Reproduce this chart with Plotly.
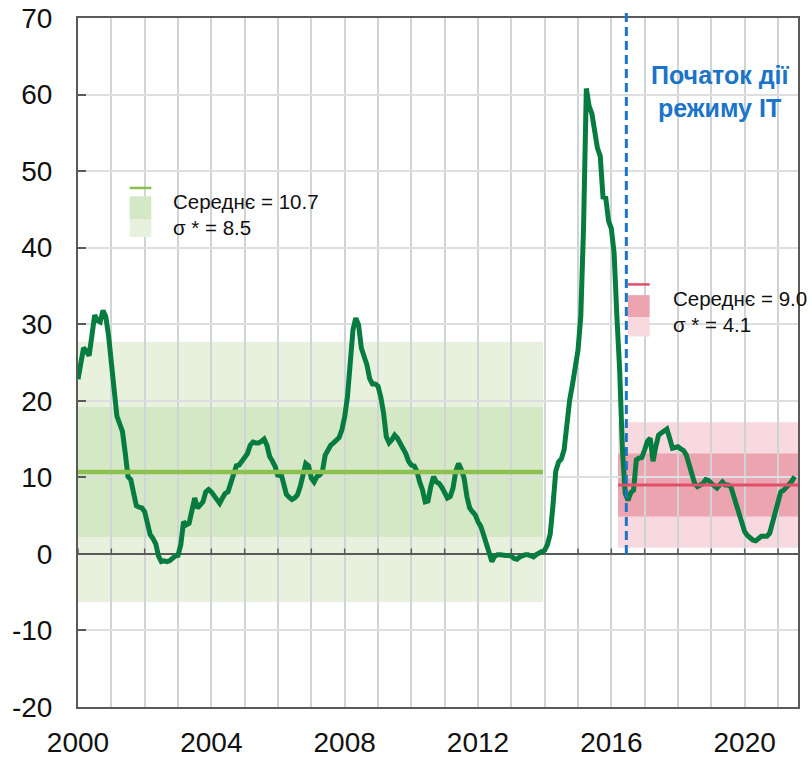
"""
Inflation (CPI, % y/y) before and after the start of inflation targeting.
"""
from __future__ import annotations

import plotly.graph_objects as go

# ── data ──────────────────────────────────────────────────────────────────────
START_YEAR = 2000

# monthly CPI y/y, Jan 2000 .. Jul 2021
cpi_2000_2007 = [
    22.8, 25.0, 26.9, 26.5, 25.9, 28.5, 31.2, 30.5, 30.3, 31.8, 31.0, 28.5,
    25.0, 21.0, 18.0, 17.0, 16.0, 13.2, 10.1, 9.7, 7.8, 6.3, 6.1, 6.0,
    5.5, 4.0, 2.5, 2.0, 1.3, -0.3, -1.0, -0.9, -1.0, -0.9, -0.5, -0.3,
    -0.2, 1.2, 4.2, 3.8, 4.0, 5.7, 7.3, 6.0, 6.3, 6.8, 8.1, 8.4,
    8.1, 7.5, 7.0, 6.6, 7.3, 7.9, 8.1, 9.4, 10.5, 11.5, 11.6, 12.2,
    12.6, 13.1, 14.2, 14.6, 14.5, 14.5, 14.7, 15.0, 14.2, 12.7, 12.1, 11.4,
    10.1, 10.6, 9.2, 7.8, 7.4, 7.1, 7.3, 7.7, 8.8, 10.5, 11.8, 11.5,
    9.9, 9.4, 10.1, 10.3, 10.8, 12.9, 13.7, 14.2, 14.5, 14.8, 15.2, 16.2,
]
cpi_2008_2015 = [
    17.9, 20.5, 24.7, 29.3, 30.8, 29.9, 26.9, 26.0, 24.7, 22.9, 22.2, 22.2,
    21.9, 20.5, 18.4, 15.3, 14.5, 14.9, 15.5, 15.1, 14.5, 13.8, 13.1, 12.1,
    11.6, 11.5, 10.8, 9.4, 8.4, 6.8, 6.9, 8.8, 10.1, 9.4, 9.2, 8.7,
    8.1, 7.3, 7.5, 8.6, 10.8, 11.8, 11.0, 9.9, 7.5, 6.0, 5.5, 5.1,
    4.2, 3.6, 2.5, 1.4, 0.1, -1.0, -0.3, -0.1, -0.1, -0.2, -0.2, -0.2,
    -0.3, -0.6, -0.7, -0.4, -0.2, -0.1, -0.1, -0.3, -0.4, -0.1, 0.1, 0.3,
    0.5, 1.2, 2.6, 6.4, 10.8, 12.0, 12.4, 13.6, 17.5, 20.1, 22.1, 24.0,
    26.6, 31.0, 42.7, 60.8, 58.5, 57.5, 55.5, 53.0, 52.0, 46.6, 46.5, 43.5,
]
cpi_2016_2021 = [
    42.5, 39.3, 31.0, 24.0, 13.6, 7.9, 7.0, 8.0, 8.3, 12.3, 12.5, 12.6,
    13.6, 14.7, 15.1, 12.1, 14.0, 15.5, 15.8, 16.1, 16.3, 15.1, 13.8, 13.9,
    14.0, 13.7, 13.5, 12.9, 11.8, 10.3, 9.2, 8.8, 9.0, 9.2, 9.7, 9.6,
    9.2, 8.8, 8.6, 9.0, 9.4, 9.0, 9.0, 8.8, 7.5, 6.3, 5.1, 4.0,
    2.9, 2.4, 2.0, 1.8, 1.7, 2.0, 2.3, 2.3, 2.3, 2.7, 4.1, 5.7,
    7.3, 8.1, 8.3, 8.8, 9.1, 9.5, 10.1,
]
cpi = cpi_2000_2007 + cpi_2008_2015 + cpi_2016_2021
dates = [START_YEAR + i / 12 for i in range(len(cpi))]

# period statistics
pre_it_period = (2000.0, 2013.95)
pre_it_mean, pre_it_sigma = 10.7, 8.5
it_period = (2016.2, 2021.6)
it_mean, it_sigma = 9.0, 4.1
it_start = 2016.45

x_tick_years = [2000, 2004, 2008, 2012, 2016, 2020]
x_tick_labels = ["2000", "2004", "2008", "2012", "2016", "2020"]
y_tick_values = [-20, -10, 0, 10, 20, 30, 40, 50, 60, 70]
y_tick_labels = ["-20", "-10", "0", "10", "20", "30", "40", "50", "60", "70"]
grid_years = list(range(2000, 2022))

mean_label = "Середнє"
sigma_label = "σ *"
it_note = ["Початок дії", "режиму IT"]

FONT = "Liberation Sans, Arial, sans-serif"
AXIS_COLOR = "#5a5a5a"
GRID_COLOR = "#d0d4d7"
LINE_GREEN = "#077c40"
BLUE = "#1b74c8"


def band_shapes(x0, x1, mean, sigma, outer, inner):
    return [
        dict(type="rect", xref="x", yref="y", x0=x0, x1=x1,
             y0=mean - 2 * sigma, y1=mean + 2 * sigma,
             fillcolor=outer, line_width=0, layer="below"),
        dict(type="rect", xref="x", yref="y", x0=x0, x1=x1,
             y0=mean - sigma, y1=mean + sigma,
             fillcolor=inner, line_width=0, layer="below"),
    ]


def legend_swatch(x0, x1, y_line, y_top, y_mid, y_bot, line_color, inner, outer):
    return [
        dict(type="line", xref="x", yref="y", x0=x0, x1=x1, y0=y_line, y1=y_line,
             line=dict(color=line_color, width=2.5)),
        dict(type="rect", xref="x", yref="y", x0=x0, x1=x1, y0=y_mid, y1=y_top,
             fillcolor=inner, line_width=0),
        dict(type="rect", xref="x", yref="y", x0=x0, x1=x1, y0=y_bot, y1=y_mid,
             fillcolor=outer, line_width=0),
    ]


def build_figure() -> go.Figure:
    fig = go.Figure()

    # ── small tick marks sitting on the zero line ────────────────────────────
    tx, ty = [], []
    for yr in grid_years:
        tx += [yr, yr, None]
        ty += [0, 0.7, None]
    fig.add_trace(go.Scatter(x=tx, y=ty, mode="lines", hoverinfo="skip",
                             line=dict(color=AXIS_COLOR, width=1.5)))

    # ── CPI line ─────────────────────────────────────────────────────────────
    fig.add_trace(go.Scatter(x=dates, y=cpi, mode="lines", name="ІСЦ",
                             line=dict(color=LINE_GREEN, width=5)))

    # ── means ────────────────────────────────────────────────────────────────
    fig.add_trace(go.Scatter(x=list(pre_it_period), y=[pre_it_mean] * 2, mode="lines",
                             line=dict(color="#8cc152", width=4.5)))
    fig.add_trace(go.Scatter(x=list(it_period), y=[it_mean] * 2, mode="lines",
                             line=dict(color="#e0506b", width=3)))

    shapes = []
    shapes += band_shapes(*pre_it_period, pre_it_mean, pre_it_sigma, "#e7f1dd", "#d5e8c5")
    shapes += band_shapes(*it_period, it_mean, it_sigma, "#f8d9df", "#eca4b1")
    shapes += legend_swatch(2001.55, 2002.2, 47.8, 46.7, 43.7, 41.4,
                            "#8cc152", "#d5e8c5", "#e7f1dd")
    shapes += legend_swatch(2016.5, 2017.15, 35.2, 33.8, 30.9, 28.4,
                            "#e0506b", "#eca4b1", "#f8d9df")
    # IT start marker
    shapes.append(dict(type="line", xref="x", yref="paper", x0=it_start, x1=it_start,
                       y0=20 / 90, y1=1.012,
                       line=dict(color=BLUE, width=3, dash="9px,5px")))

    annotations = [
        dict(x=2002.8, y=46.0, text=f"{mean_label} = {pre_it_mean:.1f}"),
        dict(x=2002.8, y=42.7, text=f"{sigma_label} = {pre_it_sigma:.1f}"),
        dict(x=2017.8, y=33.4, text=f"{mean_label} = {it_mean:.1f}"),
        dict(x=2017.8, y=30.0, text=f"{sigma_label} = {it_sigma:.1f}"),
    ]
    for a in annotations:
        a.update(xanchor="left", yanchor="middle", showarrow=False,
                 font=dict(size=20.5, color="#111111", family=FONT))
    for i, line in enumerate(it_note):
        annotations.append(dict(x=2019.25, y=62.5 - 4.2 * i, text=f"<b>{line}</b>",
                                showarrow=False, xanchor="center", yanchor="middle",
                                font=dict(size=25, color=BLUE, family=FONT)))

    fig.update_layout(
        width=812,
        height=757,
        margin=dict(l=78, r=14, t=18, b=50, autoexpand=False),
        paper_bgcolor="white",
        plot_bgcolor="white",
        showlegend=False,
        font=dict(family=FONT, color="#111111"),
        shapes=shapes,
        annotations=annotations,
    )
    fig.update_xaxes(
        range=[2000, 2021.6],
        automargin=False,
        tickvals=x_tick_years,
        ticktext=x_tick_labels,
        tickfont=dict(size=28),
        ticks="",
        ticklabelstandoff=9,
        ticklabeloverflow="allow",
        showgrid=True,
        gridcolor=GRID_COLOR,
        gridwidth=1.5,
        minor=dict(dtick=1, tick0=2000, showgrid=True, gridcolor=GRID_COLOR, gridwidth=1.5),
        showline=True,
        mirror=True,
        linecolor=AXIS_COLOR,
        linewidth=2,
        zeroline=False,
    )
    fig.update_yaxes(
        range=[-20, 70],
        automargin=False,
        tickvals=y_tick_values,
        ticktext=y_tick_labels,
        tickfont=dict(size=28),
        ticks="inside",
        ticklen=8,
        tickwidth=1.5,
        tickcolor=AXIS_COLOR,
        ticklabelstandoff=18,
        ticklabeloverflow="allow",
        showgrid=True,
        gridcolor="#dcdfe2",
        gridwidth=1.5,
        showline=True,
        mirror=True,
        linecolor=AXIS_COLOR,
        linewidth=2,
        zeroline=True,
        zerolinecolor=AXIS_COLOR,
        zerolinewidth=1.5,
    )
    return fig


if __name__ == "__main__":
    fig = build_figure()
    # drop the default page margin so the figure fills the window exactly
    fig.write_html(
        "out.html",
        config={"displayModeBar": False},
        post_script="document.body.style.margin = '0';",
    )
